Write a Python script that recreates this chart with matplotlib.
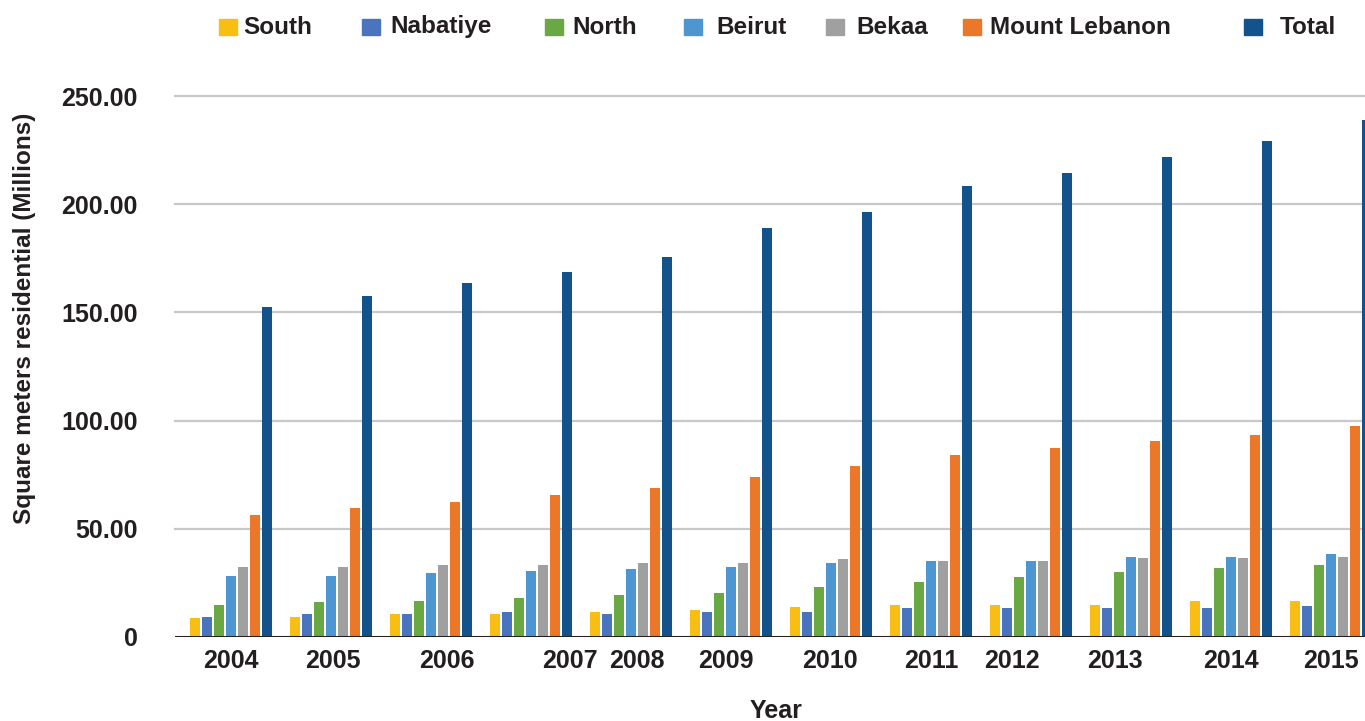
import numpy as np
import matplotlib.pyplot as plt
import matplotlib.patches as mpatches

plt.rcParams["font.family"] = ["Liberation Sans", "DejaVu Sans"]
plt.rcParams["font.weight"] = "bold"

years = ["2004", "2005", "2006", "2007", "2008", "2009",
         "2010", "2011", "2012", "2013", "2014", "2015"]

south = [8.7, 9.1, 10.5, 10.5, 11.4, 12.3, 13.7, 14.6, 14.6, 14.8, 16.6, 16.6]
nabatiye = [9.2, 10.5, 10.5, 11.4, 10.5, 11.4, 11.4, 13.3, 13.3, 13.4, 13.4, 14.3]
north = [14.6, 16.0, 16.5, 17.9, 19.3, 20.2, 23.0, 25.3, 27.6, 30.0, 31.9, 33.3]
beirut = [28.0, 28.0, 29.4, 30.3, 31.3, 32.2, 34.0, 35.0, 35.0, 37.0, 37.0, 38.3]
bekaa = [32.2, 32.2, 33.1, 33.1, 34.0, 34.0, 35.9, 35.0, 35.0, 36.5, 36.5, 37.0]
mount_lebanon = [56.2, 59.4, 62.2, 65.4, 68.7, 73.8, 78.8, 83.9, 87.2, 90.5, 93.3, 97.5]
total = [152.3, 157.8, 163.4, 168.9, 175.4, 188.8, 196.2, 208.6, 214.6, 221.7, 229.1, 238.8]

series_names = ["South", "Nabatiye", "North", "Beirut", "Bekaa", "Mount Lebanon", "Total"]
series_values = [south, nabatiye, north, beirut, bekaa, mount_lebanon, total]
colors = ["#F9BE14", "#4A74BD", "#6AA843", "#4E96D2", "#A0A0A0", "#EA7828", "#13528B"]

y_ticks = [0, 50, 100, 150, 200, 250]
y_tick_labels = ["0", "50.00", "100.00", "150.00", "200.00", "250.00"]

W, H = 1365, 721
fig = plt.figure(figsize=(W / 100, H / 100), dpi=100, facecolor="white")

# axes placed in pixel terms: left 175, baseline 637, top 96, runs off right edge
ax = fig.add_axes([175 / W, 1 - 637 / H, (W - 175) / W, (637 - 96) / H])

x = np.arange(len(years))
pitch, bar_w = 0.12, 0.10
for j, (vals, c) in enumerate(zip(series_values, colors)):
    ax.bar(x + (j - 3) * pitch, vals, width=bar_w, color=c, zorder=3)

ax.set_xlim(-0.56, 11.34)
ax.set_ylim(0, 250)

# gridlines
for t in y_ticks[1:]:
    ax.axhline(t, color="#C8C8CC", lw=1.6, zorder=1, clip_on=False)
ax.axhline(0, color="#231F20", lw=2.2, zorder=4)

for s in ax.spines.values():
    s.set_visible(False)

ax.set_yticks(y_ticks)
ax.set_yticklabels(y_tick_labels, fontsize=18, fontweight="bold", color="#231F20")
ax.tick_params(axis="y", length=0, pad=27)

# tick labels in the source sit a little off the group centres
label_shift = [0, 0.02, 0.16, 0.39, 0.06, -0.05, -0.01, 0.0, -0.19, -0.16, 0.0, 0.0]
ax.set_xticks(x + np.array(label_shift))
ax.set_xticklabels(years, fontsize=18, fontweight="bold", color="#231F20")
ax.tick_params(axis="x", length=0, pad=9)

fig.text(25 / W, 1 - 318 / H, "Square meters residential (Millions)",
         rotation=90, ha="center", va="center", fontsize=17.5,
         fontweight="bold", color="#231F20")
fig.text(776 / W, 1 - 711 / H, "Year", ha="center", va="center",
         fontsize=18, fontweight="bold", color="#231F20")

# legend drawn by hand to keep the uneven spacing
sq_x = [219, 362, 545, 684, 826, 963, 1244]
txt_x = [243, 390, 572, 716, 856, 990, 1280]
for name, c, sx, tx in zip(series_names, colors, sq_x, txt_x):
    fig.patches.append(mpatches.Rectangle((sx / W, 1 - 35 / H), 18 / W, 16 / H,
                                          transform=fig.transFigure,
                                          color=c, figure=fig))
    fig.text(tx / W, 1 - 27 / H, name, ha="left", va="center",
             fontsize=17.5, fontweight="bold", color="#231F20")

fig.savefig("out.png", dpi=100, facecolor="white")
